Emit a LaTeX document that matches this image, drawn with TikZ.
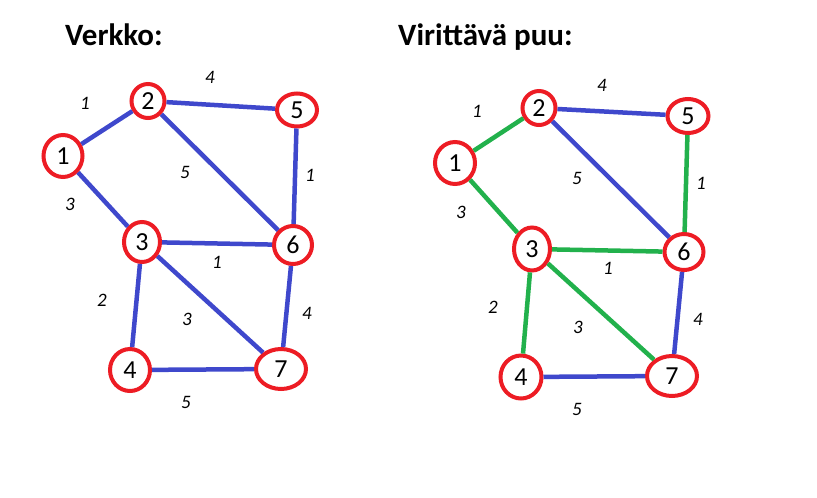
\documentclass[tikz,border=0pt]{standalone}
\usepackage{fontspec}
\setmainfont{Carlito}
\usetikzlibrary{shapes.geometric}
\definecolor{ered}{RGB}{237,28,36}
\definecolor{eblue}{RGB}{63,72,204}
\definecolor{egreen}{RGB}{34,177,76}
\begin{document}
\begin{tikzpicture}[x=1pt,y=-1pt,
 vert/.style={ellipse,draw=ered,line width=4pt,inner sep=0pt,fill=white,font=\fontsize{26}{26}\selectfont},
 bl/.style={draw=eblue,line width=4.5pt},
 gr/.style={draw=egreen,line width=4.5pt},
 wt/.style={inner sep=0pt,font=\fontsize{19}{19}\selectfont\itshape},
 ttl/.style={inner sep=0pt,anchor=base west,font=\fontsize{31}{31}\selectfont\bfseries}]
\useasboundingbox (0,0) rectangle (817,498);
% titles
\node[ttl] (t1) at (65,45) {Verkko:};
\node[ttl] (t2) at (398,45) {Virittävä puu:};
% left graph
\node[vert,minimum width=39pt,minimum height=42pt] (a1) at (63,156) {1};
\node[vert,minimum width=33pt,minimum height=34pt] (a2) at (148,101) {2};
\node[vert,minimum width=40pt,minimum height=33pt] (a5) at (297,110) {5};
\node[vert,minimum width=36pt,minimum height=40pt] (a3) at (142,242) {3};
\node[vert,minimum width=38pt,minimum height=38pt] (a6) at (293,245) {6};
\node[vert,minimum width=40pt,minimum height=42pt] (a4) at (130,370) {4};
\node[vert,minimum width=50pt,minimum height=40pt] (a7) at (281,369) {7};
\draw[bl] (a1) -- (a2);
\draw[bl] (a1) -- (a3);
\draw[bl] (a2) -- (a5);
\draw[bl] (a2) -- (a6);
\draw[bl] (a5) -- (a6);
\draw[bl] (a3) -- (a6);
\draw[bl] (a3) -- (a4);
\draw[bl] (a3) -- (a7);
\draw[bl] (a6) -- (a7);
\draw[bl] (a4) -- (a7);
\node[wt] (la12) at (85,103) {1};
\node[wt] (la25) at (210,77) {4};
\node[wt] (la26) at (185,172) {5};
\node[wt] (la56) at (310,175) {1};
\node[wt] (la13) at (70,204) {3};
\node[wt] (la36) at (217,262) {1};
\node[wt] (la34) at (102,300) {2};
\node[wt] (la37) at (187,319) {3};
\node[wt] (la67) at (307,313) {4};
\node[wt] (la47) at (186,402) {5};
% right graph
\node[vert,minimum width=40pt,minimum height=42pt] (b1) at (455,163) {1};
\node[vert,minimum width=33pt,minimum height=34pt] (b2) at (539,108) {2};
\node[vert,minimum width=41pt,minimum height=34pt] (b5) at (688,116) {5};
\node[vert,minimum width=36pt,minimum height=43pt] (b3) at (532,249) {3};
\node[vert,minimum width=39pt,minimum height=36pt] (b6) at (684,252) {6};
\node[vert,minimum width=41pt,minimum height=43pt] (b4) at (521,377) {4};
\node[vert,minimum width=50pt,minimum height=40pt] (b7) at (672,376) {7};
\draw[gr] (b1) -- (b2);
\draw[gr] (b1) -- (b3);
\draw[bl] (b2) -- (b5);
\draw[bl] (b2) -- (b6);
\draw[gr] (b5) -- (b6);
\draw[gr] (b3) -- (b6);
\draw[gr] (b3) -- (b4);
\draw[gr] (b3) -- (b7);
\draw[bl] (b6) -- (b7);
\draw[bl] (b4) -- (b7);
\node[wt] (lb12) at (477,111) {1};
\node[wt] (lb25) at (602,85) {4};
\node[wt] (lb26) at (577,178) {5};
\node[wt] (lb56) at (701,183) {1};
\node[wt] (lb13) at (461,212) {3};
\node[wt] (lb36) at (608,268) {1};
\node[wt] (lb34) at (493,307) {2};
\node[wt] (lb37) at (578,327) {3};
\node[wt] (lb67) at (698,319) {4};
\node[wt] (lb47) at (577,409) {5};
\end{tikzpicture}
\end{document}
